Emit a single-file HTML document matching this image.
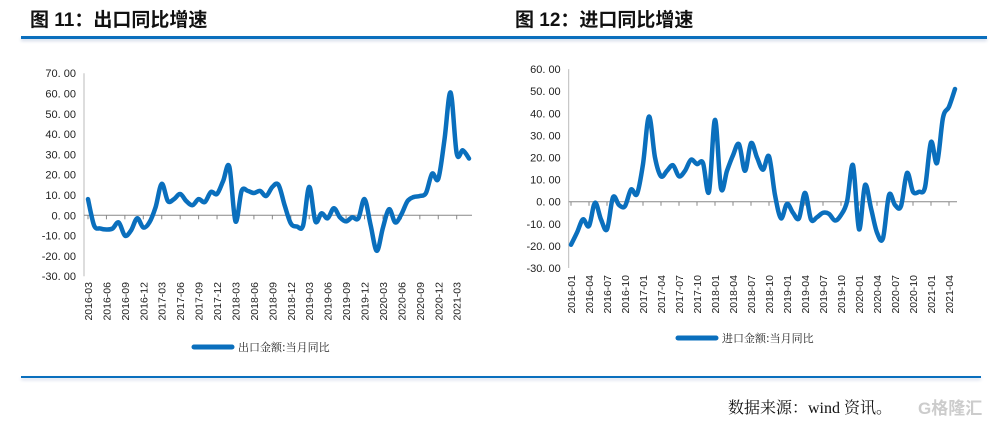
<!DOCTYPE html>
<html><head><meta charset="utf-8"><style>
body{margin:0;background:#fff;width:992px;height:421px;overflow:hidden;position:relative;font-family:"Liberation Sans","Noto Sans CJK SC",sans-serif}
.t{position:absolute;top:5px;font-size:19px;font-weight:bold;font-family:"Liberation Sans","Noto Sans CJK SC",sans-serif;color:#111}
</style></head><body>
<div class="t" style="left:30px">图 11：出口同比增速</div>
<div class="t" style="left:515px">图 12：进口同比增速</div>
<div style="position:absolute;left:21px;top:36px;width:966px;height:3px;background:#0a6fbd;box-shadow:0 2px 3px #d0d8e8"></div>
<div style="position:absolute;left:21px;top:376px;width:960px;height:2px;background:#0a6fbd;box-shadow:0 2px 3px #d0d8e8"></div>
<div style="position:absolute;left:728px;top:395px;font-size:16px;font-family:'Liberation Serif','Noto Serif CJK SC',serif;color:#111">数据来源：wind 资讯。</div>
<div style="position:absolute;left:918px;top:394px;font-size:17px;color:#ccc;font-weight:bold">G格隆汇</div>
<svg id="s" width="992" height="421" style="position:absolute;left:0;top:0" font-family="Liberation Sans, sans-serif"></svg>
<script>
var s=document.getElementById('s'),h='';
function smooth(p){var d='M'+p[0][0].toFixed(1)+','+p[0][1].toFixed(1);for(var i=0;i<p.length-1;i++){var a=p[i-1]||p[i],b=p[i],c=p[i+1],e=p[i+2]||c;d+='C'+(b[0]+(c[0]-a[0])/6).toFixed(1)+','+(b[1]+(c[1]-a[1])/6).toFixed(1)+' '+(c[0]-(e[0]-b[0])/6).toFixed(1)+','+(c[1]-(e[1]-b[1])/6).toFixed(1)+' '+c[0].toFixed(1)+','+c[1].toFixed(1);}return d;}
function chart(o){
 var ax=o.ax,y0=o.y0,u=o.u;
 h+='<line x1="'+ax+'" y1="'+(y0-o.max*u)+'" x2="'+ax+'" y2="'+(y0-o.min*u)+'" stroke="#bbb"/>';
 for(var v=o.min;v<=o.max;v+=10){var y=y0-v*u;h+='<text x="'+(ax-8)+'" y="'+(y+4)+'" font-size="11" text-anchor="end" fill="#222">'+(v<0?'-':'')+Math.abs(v).toFixed(2).replace('.','. ')+'</text>';}
 h+='<line x1="'+ax+'" y1="'+y0+'" x2="'+o.aend+'" y2="'+y0+'" stroke="#888"/>';
 var pts=o.d.map(function(v,i){return [o.x0+i*o.dx,y0-v*u]});
 for(var i=0;i<o.d.length;i+=3){var x=o.x0+i*o.dx;h+='<line x1="'+(x+o.dx*o.tk)+'" y1="'+y0+'" x2="'+(x+o.dx*o.tk)+'" y2="'+(y0+4)+'" stroke="#888"/>';
  var yr=o.sy+Math.floor((o.sm-1+i)/12),m=(o.sm-1+i)%12+1;
  h+='<text transform="translate('+(x+4)+','+o.ly+') rotate(-90)" font-size="10.5" text-anchor="end" fill="#222">'+yr+'-'+(m<10?'0':'')+m+'</text>';}
 h+='<path d="'+smooth(pts)+'" fill="none" stroke="#0a6fbd" stroke-width="4.5" stroke-linejoin="round" stroke-linecap="round"/>';
 h+='<line x1="'+o.lx+'" y1="'+o.lgy+'" x2="'+(o.lx+38)+'" y2="'+o.lgy+'" stroke="#0a6fbd" stroke-width="5" stroke-linecap="round"/>';
 h+='<text x="'+(o.lx+44)+'" y="'+(o.lgy+4)+'" font-size="11" font-family="Noto Serif CJK SC, serif" fill="#222">'+o.lab+'</text>';
}
chart({ax:84,y0:215.3,u:2.03,min:-30,max:70,aend:472,x0:88,dx:6.145,tk:0,sy:2016,sm:3,ly:282,lx:194,lgy:347,lab:'出口金额:当月同比',
d:[8,-5,-6.5,-7,-6.5,-3.5,-10,-7.5,-1.5,-6,-3.5,4,15.5,7,8,10.5,7,5,8,6.5,11.5,10.5,17,24,-3,12,12,11,12,9.5,14,15,5,-4,-5.5,-5,14,-3,1,-1.5,3.5,-1,-3,-1,-1.5,8,-5,-17.5,-6,3,-3.5,0.5,7,9,9.5,11,20.5,18,37,60.5,30.5,32,28]});
chart({ax:568.7,y0:201.7,u:2.21,min:-30,max:60,aend:957,x0:571,dx:6.0,tk:0,sy:2016,sm:1,ly:275,lx:678,lgy:338,lab:'进口金额:当月同比',
d:[-19.5,-14,-8,-11,-0.5,-8,-12.5,2,-1.5,-2,5.5,3.5,17,38.5,20,11.5,14,16.5,11.5,14,19,17,17.5,4.5,37,6,14,21,26,14,26.5,20,14.5,20.5,3,-7.5,-1,-5,-7.5,4,-8,-7,-5,-5.5,-8.5,-6,0,16.5,-12.5,7.5,-3,-14,-16.5,3,-1.5,-2,13,4.5,4.5,6.5,27,17.5,38,43,51]});
s.innerHTML=h;
</script>
</body></html>
